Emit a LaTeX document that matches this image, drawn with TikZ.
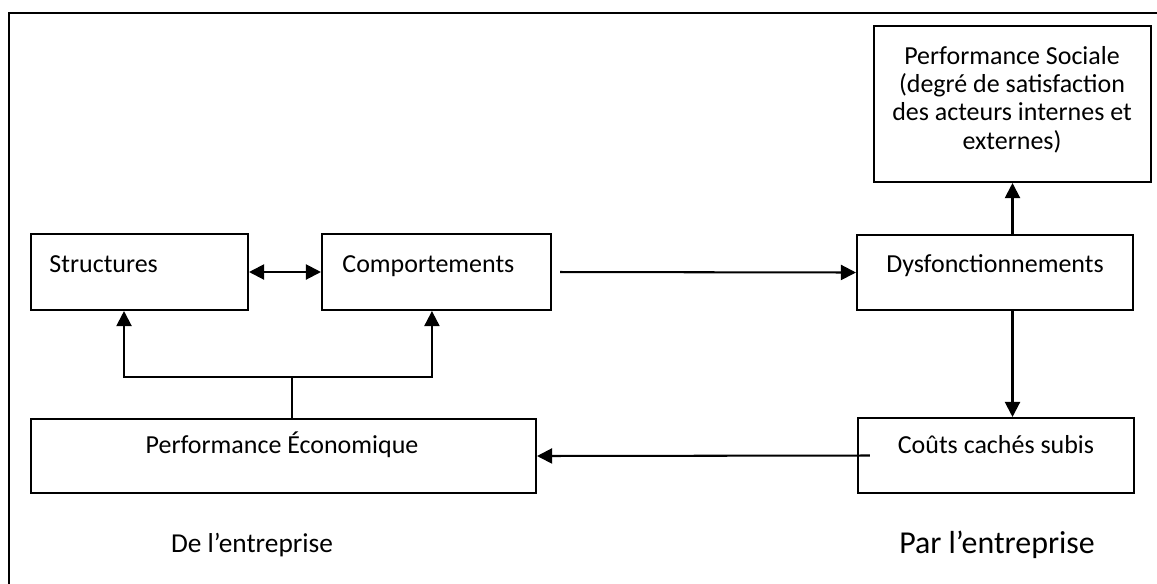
\documentclass[tikz,border=0pt]{standalone}
\usepackage{fontspec}
\setmainfont{Carlito}
\usetikzlibrary{fit, arrows.meta}

\begin{document}
\begin{tikzpicture}[x=0.439pt, y=-0.439pt,
    box/.style={rectangle, draw, line width=0.9pt, inner sep=0pt},
    txt/.style={inner sep=0pt, font=\fontsize{11.4pt}{12.4pt}\selectfont},
    arr/.style={-{Triangle[length=6.6pt,width=6.6pt]}, line width=0.9pt},
    dbl/.style={{Triangle[length=6.6pt,width=6.6pt]}-{Triangle[length=6.6pt,width=6.6pt]}, line width=0.9pt}]
    \clip (0,0) rectangle (1157,583);
    \draw[line width=0.9pt] (9,13) rectangle (1200,640);

    \node[box, fit={(31,234) (248,310)}] (S) {};
    \node[box, fit={(322,234) (551,310)}] (C) {};
    \node[box, fit={(857,235) (1133,310)}] (D) {};
    \node[box, fit={(874,26) (1151,182)}] (So) {};
    \node[box, fit={(858,418) (1134,493)}] (K) {};
    \node[box, fit={(31,419) (536,493)}] (E) {};

    \node[txt, anchor=base west] (Stxt) at (49,272) {Structures};
    \node[txt, anchor=base west] (Ctxt) at (342,272) {Comportements};
    \node[txt, anchor=base] (Dtxt) at (995,272) {Dysfonctionnements};
    \node[txt, anchor=north, align=center] (Sotxt) at (1012,46) {Performance Sociale\\(degré de satisfaction\\des acteurs internes et\\externes)};
    \node[txt, anchor=base] (Ktxt) at (996,453) {Coûts cachés subis};
    \node[txt, anchor=base] (Etxt) at (282,453) {Performance Économique};
    \node[txt, anchor=base, font=\fontsize{12pt}{14pt}\selectfont] (de) at (252,552) {De l’entreprise};
    \node[txt, anchor=base, font=\fontsize{14pt}{17pt}\selectfont] (par) at (997,553) {Par l’entreprise};

    \coordinate (j) at (292,377);

    \draw[dbl] (S.east) -- (C.west);
    \draw[arr, shorten <=3.5pt] (C.east) -- (D.west);
    \draw[arr] (D.north -| So.south) -- (So.south);
    \draw[arr] (D.south -| So.south) -- (K.north -| So.south);
    \draw[arr] ([xshift=5.7pt]K.west) -- (E.east);
    \draw[line width=0.9pt] (E.north -| j) -- (j);
    \draw[arr] (j) -| ([xshift=-6.8pt]S.south);
    \draw[arr] (j) -| ([xshift=-2pt]C.south);
\end{tikzpicture}
\end{document}
